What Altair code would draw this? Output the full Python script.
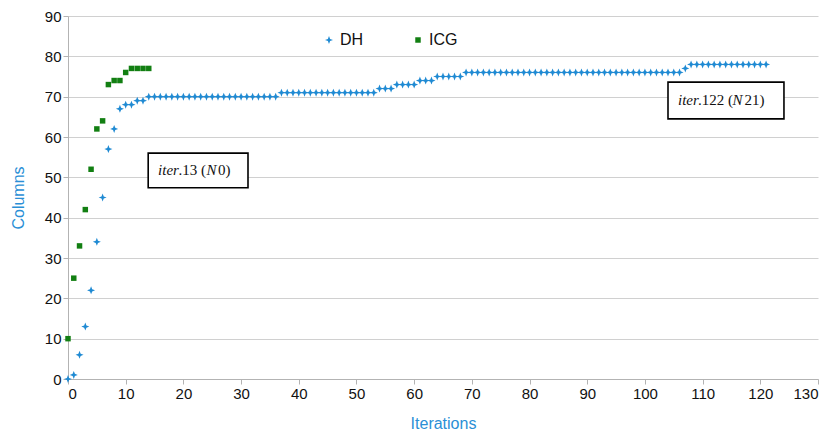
import altair as alt
import pandas as pd

# Columns generated per iteration, DH heuristic (iterations 0..121)
dh_columns = [
    0, 1, 6, 13, 22, 34, 45, 57, 62, 67, 68, 68, 69, 69,
    70, 70, 70, 70, 70, 70, 70, 70, 70, 70, 70, 70, 70, 70, 70, 70, 70, 70, 70, 70, 70, 70, 70,
    71, 71, 71, 71, 71, 71, 71, 71, 71, 71, 71, 71, 71, 71, 71, 71, 71,
    72, 72, 72,
    73, 73, 73, 73,
    74, 74, 74,
    75, 75, 75, 75, 75,
    76, 76, 76, 76, 76, 76, 76, 76, 76, 76, 76, 76, 76, 76, 76, 76, 76, 76, 76,
    76, 76, 76, 76, 76, 76, 76, 76, 76, 76, 76, 76, 76, 76, 76, 76, 76, 76, 76,
    77,
    78, 78, 78, 78, 78, 78, 78, 78, 78, 78, 78, 78, 78, 78,
]
# Columns generated per iteration, ICG (iterations 0..14)
icg_columns = [10, 25, 33, 42, 52, 62, 64, 73, 74, 74, 76, 77, 77, 77, 77]

series_names = ["DH", "ICG"]
series_colors = ["#1f8ad3", "#127f12"]
title_blue = "#2a8fd6"

# Annotation boxes: data-space extents and the label pieces inside them
boxes = pd.DataFrame({
    "x": [13.9, 104.0], "x2": [31.2, 124.1],
    "y": [47.4, 64.5], "y2": [56.0, 73.6],
    "xc": [22.55, 114.05], "yc": [51.7, 69.05],
})
# (box index, text, italic, horizontal offset from box centre in px)
box_labels = [
    (0, "iter", True, -40), (0, ".13 (", False, -19.5), (0, "N", True, 8.5), (0, "0)", False, 20),
    (1, "iter", True, -48), (1, ".122 (", False, -28), (1, "N", True, 6.5), (1, "21)", False, 18.5),
]

rows = [{"iteration": i, "columns": v, "series": "DH"} for i, v in enumerate(dh_columns)]
rows += [{"iteration": i, "columns": v, "series": "ICG"} for i, v in enumerate(icg_columns)]
df = pd.DataFrame(rows)

star = "M0,-1L0.28,-0.28L1,0L0.28,0.28L0,1L-0.28,0.28L-1,0L-0.28,-0.28Z"

x_scale = alt.Scale(domain=[0, 130], nice=False)
y_scale = alt.Scale(domain=[0, 90], nice=False)

points = alt.Chart(df).mark_point(filled=True, opacity=1, strokeWidth=0).encode(
    x=alt.X("iteration:Q", scale=x_scale,
            axis=alt.Axis(title="Iterations", values=list(range(0, 131, 10)), grid=False,
                          titleColor=title_blue, titleFontSize=16, titleFontWeight="normal",
                          titlePadding=14, labelPadding=2)),
    y=alt.Y("columns:Q", scale=y_scale,
            axis=alt.Axis(title="Columns", values=list(range(0, 91, 10)), grid=True,
                          titleColor=title_blue, titleFontSize=16, titleFontWeight="normal",
                          titlePadding=18, labelPadding=2)),
    color=alt.Color("series:N", scale=alt.Scale(domain=series_names, range=series_colors),
                    legend=alt.Legend(title=None, orient="none", direction="horizontal",
                                      legendX=253, legendY=16, columnPadding=46,
                                      symbolSize=81,
                                      labelFontSize=16, labelColor="#111",
                                      labelFont="Liberation Sans", labelOffset=3)),
    shape=alt.Shape("series:N", scale=alt.Scale(domain=series_names, range=[star, "square"])),
    size=alt.Size("series:N", scale=alt.Scale(domain=series_names, range=[64, 30]),
                  legend=None),
)

rects = alt.Chart(boxes).mark_rect(fill="white", stroke="black", strokeWidth=1.6).encode(
    x=alt.X("x:Q", scale=x_scale), x2="x2:Q",
    y=alt.Y("y:Q", scale=y_scale), y2="y2:Q",
)

layers = [points, rects]
for idx, text, italic, off in box_labels:
    b = boxes.iloc[idx]
    t = alt.Chart(pd.DataFrame({"xc": [b.xc], "yc": [b.yc], "t": [text]})).mark_text(
        align="left", baseline="middle", dx=off, fontSize=15,
        font="Liberation Serif", fontStyle="italic" if italic else "normal", color="#111",
    ).encode(
        x=alt.X("xc:Q", scale=x_scale), y=alt.Y("yc:Q", scale=y_scale), text="t:N",
    )
    layers.append(t)

chart = alt.layer(*layers).properties(
    width=750, height=363,
    autosize=alt.AutoSizeParams(type="none"),
    padding={"left": 68, "top": 16, "right": 14, "bottom": 51},
    background="white",
).configure_view(stroke=None).configure_axis(
    labelFont="Liberation Sans", titleFont="Liberation Sans",
    labelFontSize=15, labelColor="#111",
    domainColor="#b3b3b3", tickColor="#b3b3b3", tickSize=5,
    gridColor="#d0d0d0", gridWidth=1,
)

chart.save("out.html", embed_options={"renderer": "svg", "actions": False})
